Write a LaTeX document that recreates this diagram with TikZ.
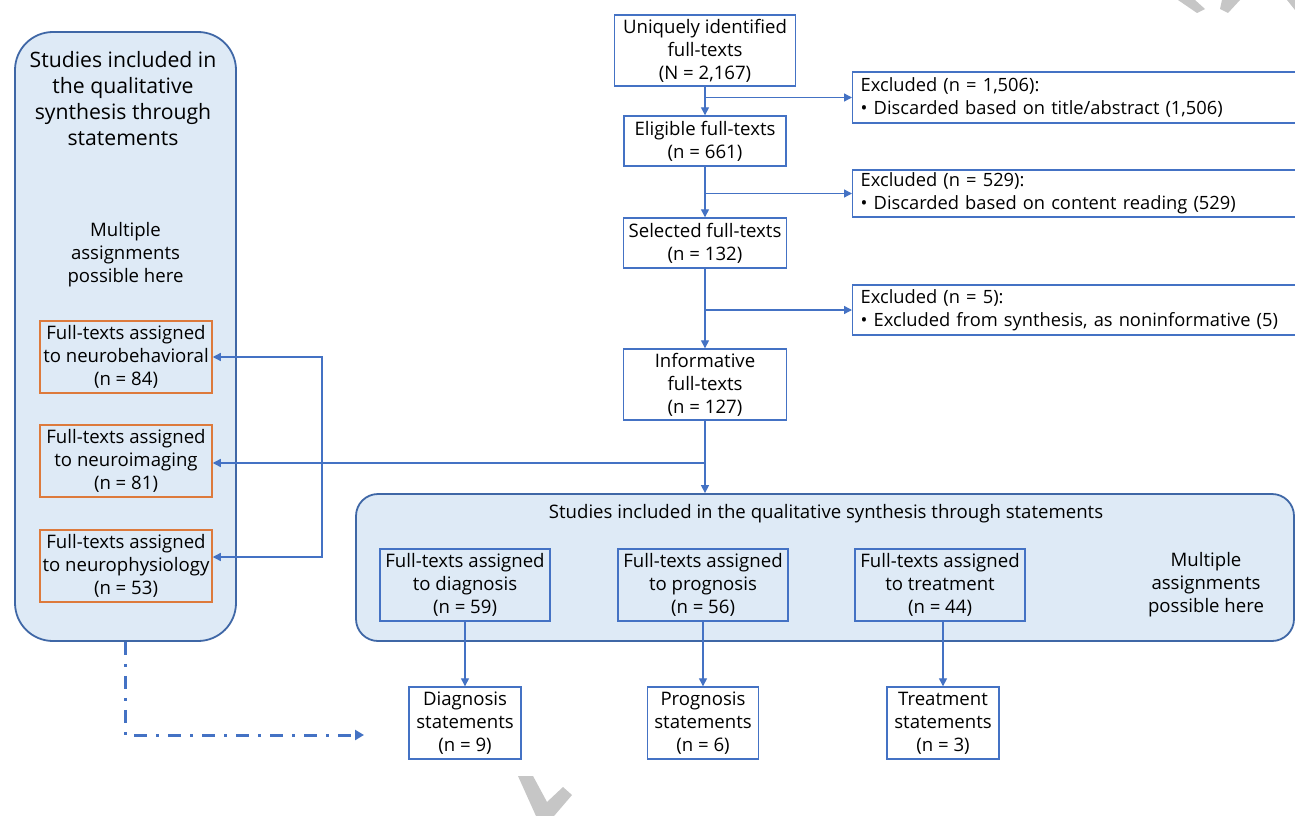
\documentclass[tikz,border=0pt]{standalone}
\usepackage{fontspec}
\setmainfont{Open Sans}
\usetikzlibrary{arrows.meta,calc}
\definecolor{bfill}{HTML}{DEEAF6}
\definecolor{bdark}{HTML}{3F67A6}
\definecolor{bline}{HTML}{4472C4}
\definecolor{orng}{HTML}{DD7A3C}
\definecolor{wmark}{HTML}{C6C6C6}
\newcommand\mainfs{\fontsize{18.6}{23}\selectfont}
\newcommand\exfs{\fontsize{18.3}{23}\selectfont}
\newcommand\titlefs{\fontsize{21.2}{25.7}\selectfont}
\begin{document}
\begin{tikzpicture}[x=1pt,y=-1pt,
  txt/.style={font=\mainfs, align=center, inner sep=0pt},
  box/.style={txt, draw=bline, line width=1.4pt, fill=white},
  inbox/.style={txt, draw=bline, line width=1.4pt, fill=bfill, minimum width=170, minimum height=72},
  obox/.style={txt, draw=orng, line width=1.5pt, fill=bfill, minimum width=172, minimum height=72},
  exbox/.style={draw=bline, line width=1.4pt, fill=white, anchor=west, align=left,
                text width=440pt, inner xsep=8pt, inner ysep=0pt, font=\exfs},
  bigbox/.style={draw=bdark, line width=1.8pt, fill=bfill},
  arr/.style={draw=bline, line width=1.3pt, -{Triangle[length=8pt,width=8pt]}},
  ddarr/.style={draw=bline, line width=3pt, dash pattern=on 13pt off 9pt on 3pt off 9pt,
                -{Triangle[length=9pt,width=10pt]}},
  wm/.style={fill=wmark, draw=none}]
\useasboundingbox (0,0) rectangle (1295,816);
\fill[white] (0,0) rectangle (1295,816);

% watermark fragments
\fill[wm] (1178,0) -- (1195,0) -- (1205,9) -- (1197,13) -- cycle;
\fill[wm] (1222,0) -- (1240,0) -- (1228,13) -- (1220,9) -- cycle;
\fill[wm] (1287,0) -- (1295,0) -- (1295,10) -- cycle;
\fill[wm] (518,776) -- (533,776) -- (547,802) -- (563,787) -- (572,795) -- (554,816) -- (536,816) -- cycle;

% left big box
\node[bigbox, minimum width=221, minimum height=609, rounded corners=38] (lb) at (125.5,336.5) {};
\node[font=\titlefs, align=center, inner sep=0pt] (lbt) at (123,98.5)
  {Studies included in\\the qualitative\\synthesis through\\statements};
\node[txt] (lbm) at (125.5,255) {Multiple\\assignments\\possible here};
\node[obox] (n1) at (126,357) {Full-texts assigned\\to neurobehavioral\\(n = 84)};
\node[obox] (n2) at (126,461) {Full-texts assigned\\to neuroimaging\\(n = 81)};
\node[obox] (n3) at (126,566) {Full-texts assigned\\to neurophysiology\\(n = 53)};

% main column
\node[box, minimum width=181, minimum height=71] (u) at (705,50.5) {Uniquely identified\\full-texts\\(N = 2,167)};
\node[box, minimum width=162, minimum height=50] (e) at (705,141) {Eligible full-texts\\(n = 661)};
\node[box, minimum width=163, minimum height=50] (s) at (705,243) {Selected full-texts\\(n = 132)};
\node[box, minimum width=163, minimum height=71] (i) at (705,384.5) {Informative\\full-texts\\(n = 127)};

\node[exbox, minimum height=51] (x1) at (852,97.5) {Excluded (n = 1,506):\\• Discarded based on title/abstract (1,506)};
\node[exbox, minimum height=47] (x2) at (852,193.5) {Excluded (n = 529):\\• Discarded based on content reading (529)};
\node[exbox, minimum height=50] (x3) at (852,310) {Excluded (n = 5):\\• Excluded from synthesis, as noninformative (5)};

% bottom big box
\node[bigbox, minimum width=938, minimum height=147, rounded corners=22] (bb) at (825,567.5) {};
\node[txt] (bbt) at (826,514) {Studies included in the qualitative synthesis through statements};
\node[inbox] (d1) at (465,585) {Full-texts assigned\\to diagnosis\\(n = 59)};
\node[inbox] (p1) at (703,585) {Full-texts assigned\\to prognosis\\(n = 56)};
\node[inbox] (t1) at (940,585) {Full-texts assigned\\to treatment\\(n = 44)};
\node[txt] (bbm) at (1206,585) {Multiple\\assignments\\possible here};

\node[box, minimum width=112, minimum height=72] (ds) at (465,723) {Diagnosis\\statements\\(n = 9)};
\node[box, minimum width=111, minimum height=72] (ps) at (703,723) {Prognosis\\statements\\(n = 6)};
\node[box, minimum width=112, minimum height=72] (ts) at (943,723) {Treatment\\statements\\(n = 3)};

% connectors
\draw[arr] (u.south) -- (u.south |- e.north);
\draw[arr] (e.south) -- (e.south |- s.north);
\draw[arr] (s.south) -- (s.south |- i.north);
\draw[arr] (x1.west -| u.south) -- (x1.west);
\draw[arr] (x2.west -| e.south) -- (x2.west);
\draw[arr] (x3.west -| s.south) -- (x3.west);
\draw[arr] (i.south) -- (i.south |- bb.north);
\coordinate (j) at ($(i.south |- n2.east)+(0,2)$);
\draw[arr] (j) -- (j -| n2.east);
\coordinate (k) at (322,463);
\draw[arr] (k) |- (n1.east);
\draw[arr] (k) |- ([yshift=9pt]n3.east);
\draw[arr] (d1.south) -- (d1.south |- ds.north);
\draw[arr] (p1.south) -- (p1.south |- ps.north);
\draw[arr] (ts.north |- t1.south) -- (ts.north);
\coordinate (dd) at (364,735);
\draw[ddarr] (lb.south) |- (dd);
\end{tikzpicture}
\end{document}
